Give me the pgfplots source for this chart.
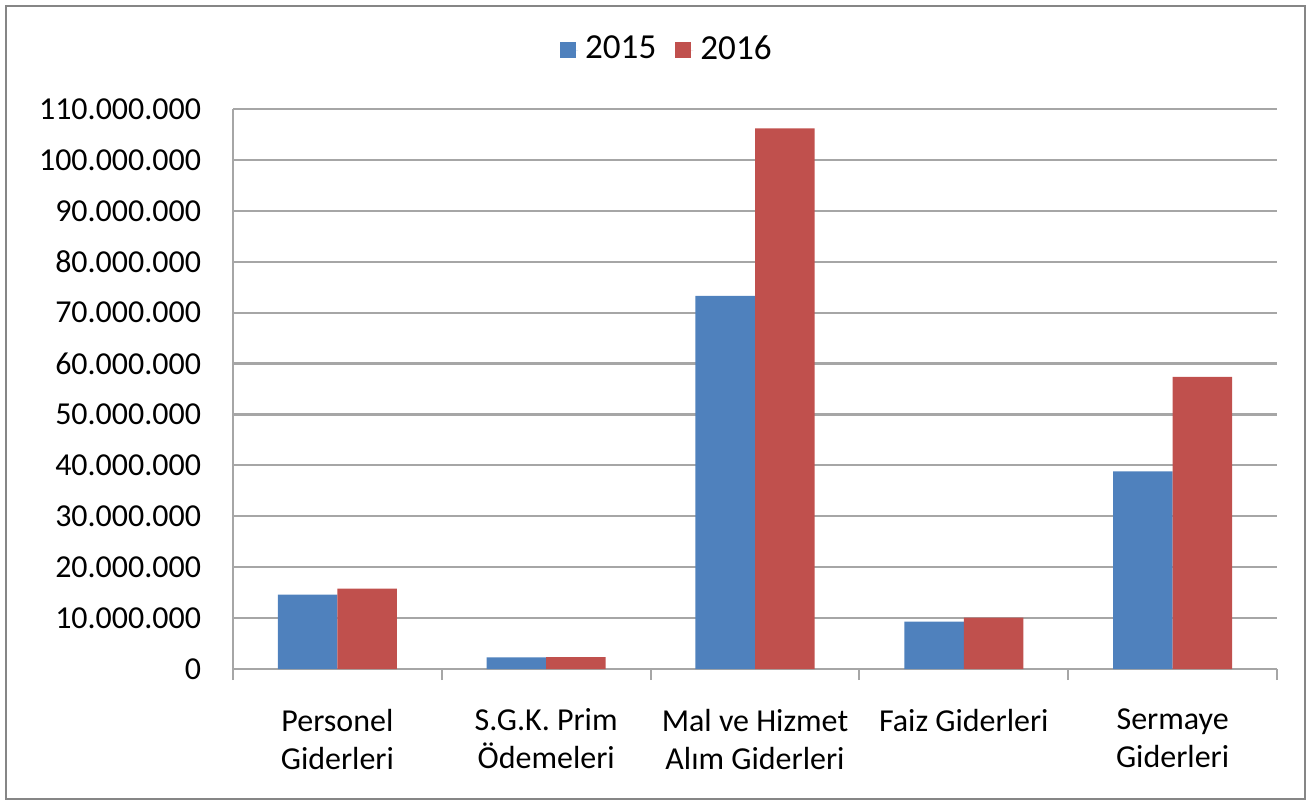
\documentclass[border=0pt]{standalone}
\usepackage{fontspec}
\setmainfont{Carlito}
\usepackage{pgfplots}
\pgfplotsset{compat=1.18}
\definecolor{barblue}{HTML}{4F81BD}
\definecolor{barred}{HTML}{C0504D}
\definecolor{gridgray}{HTML}{A6A6A6}
\definecolor{framegray}{HTML}{868686}

\begin{document}
\begin{tikzpicture}
\path (0,0) rectangle (13.11,8.02);
\draw[framegray, line width=0.025cm] (0.06,0.03) rectangle (13.05,7.96);
\begin{axis}[
  at={(2.33cm,1.33cm)}, anchor=south west,
  scale only axis, width=10.44cm, height=5.60cm,
  font=\fontsize{9.1}{10.8}\selectfont,
  ybar=0pt, bar width=0.285,
  xmin=-0.5, xmax=4.5, ymin=0, ymax=110000000,
  axis x line=bottom, axis y line=left,
  axis line style={gridgray, line width=0.6pt, -},
  ytick={0,10000000,20000000,30000000,40000000,50000000,60000000,70000000,80000000,90000000,100000000,110000000},
  scaled y ticks=false,
  yticklabel style={xshift=-0.12cm, /pgf/number format/fixed, /pgf/number format/precision=0,
    /pgf/number format/1000 sep={.}, /pgf/number format/assume math mode=true},
  ytick style={draw=none},
  ymajorgrids, grid style={gridgray, line width=0.6pt},
  xtick={0,1,2,3,4},
  xticklabels={{Personel\\Giderleri},{S.G.K. Prim\\Ödemeleri},{Mal ve Hizmet\\Alım Giderleri},{Faiz Giderleri},{Sermaye\\Giderleri}},
  xticklabel style={align=center, yshift=-0.2cm},
  xtick style={draw=none},
  extra x ticks={-0.5,0.5,1.5,2.5,3.5,4.5},
  extra x tick labels={},
  extra x tick style={grid=none, tick align=outside, major tick length=0.11cm,
    xtick style={draw=gridgray, line width=0.6pt}},
  legend style={at={(0.418,1.105)}, anchor=center, draw=none, fill=none,
    legend columns=2, font=\fontsize{10}{12}\selectfont,
    /tikz/every even column/.append style={column sep=0.12cm}},
  legend image code/.code={\fill[#1,/tikz/.cd] (0cm,-0.08cm) rectangle (0.16cm,0.08cm);
    \path (0cm,0cm) -- (0.18cm,0cm);},
]
\addplot[fill=barblue, draw=none] coordinates {
  (0,14600000) (1,2300000) (2,73300000) (3,9300000) (4,38800000)
};
\addplot[fill=barred, draw=none] coordinates {
  (0,15800000) (1,2350000) (2,106200000) (3,10100000) (4,57400000)
};
\legend{2015,2016}
\end{axis}
\end{tikzpicture}
\end{document}
